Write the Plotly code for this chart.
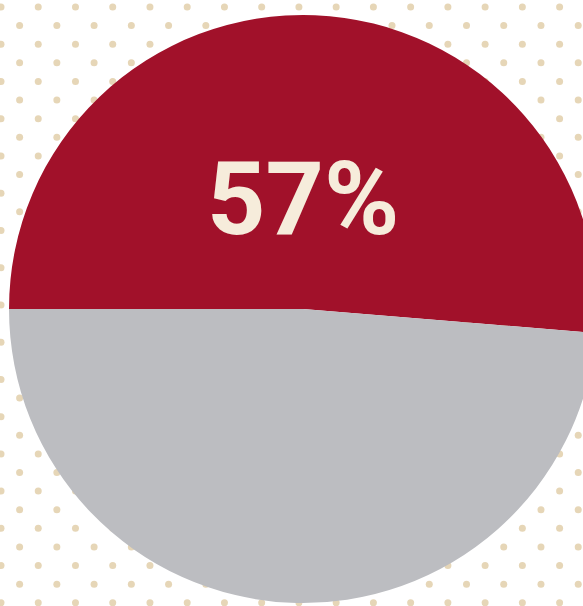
import numpy as np
import plotly.graph_objects as go

# --- data ---
slice_labels = ["Highlighted", "Remainder"]
slice_values = [51.3, 48.7]          # angular share as drawn in the picture
slice_colors = ["#a1112a", "#bcbdc1"]
headline_text = "57%"

# --- canvas geometry (pixels) ---
W, H = 610, 606
cx, cy, r = 303, 309, 294

# background dot lattice (decorative pattern)
step = 18.62
dot_x, dot_y = [], []
for i, yy in enumerate(np.arange(7, H + step, step)):
    x0 = 1 if i % 2 == 0 else 1 + step
    for xx in np.arange(x0, W + 2 * step, 2 * step):
        dot_x.append(xx)
        dot_y.append(yy)

fig = go.Figure()
fig.add_trace(go.Scatter(
    x=dot_x, y=dot_y, mode="markers",
    marker=dict(size=7, color="#e6d6b7", line=dict(width=0)),
    hoverinfo="skip", showlegend=False,
))

fig.add_trace(go.Pie(
    labels=slice_labels, values=slice_values,
    marker=dict(colors=slice_colors, line=dict(width=0)),
    sort=False, direction="clockwise", rotation=-90,
    textinfo="none", hoverinfo="label+percent", showlegend=False,
    domain=dict(x=[(cx - r) / W, (cx + r) / W],
                y=[(H - cy - r) / H, (H - cy + r) / H]),
))

fig.add_annotation(
    x=303 / W, y=(H - 199) / H, xref="paper", yref="paper",
    text="<b>" + headline_text + "</b>", showarrow=False,
    font=dict(family="Roboto, DejaVu Sans, sans-serif",
              size=102, color="#f6ecdb"),
    xanchor="center", yanchor="middle",
)

fig.update_layout(
    width=W, height=H,
    margin=dict(l=0, r=0, t=0, b=0),
    paper_bgcolor="white", plot_bgcolor="white",
    xaxis=dict(range=[0, W], visible=False, fixedrange=True),
    yaxis=dict(range=[H, 0], visible=False, fixedrange=True),
)

fig.write_html(
    "out.html",
    post_script="document.documentElement.style.overflow='hidden';"
                "document.body.style.overflow='hidden';"
                "document.body.style.margin='0';",
)
